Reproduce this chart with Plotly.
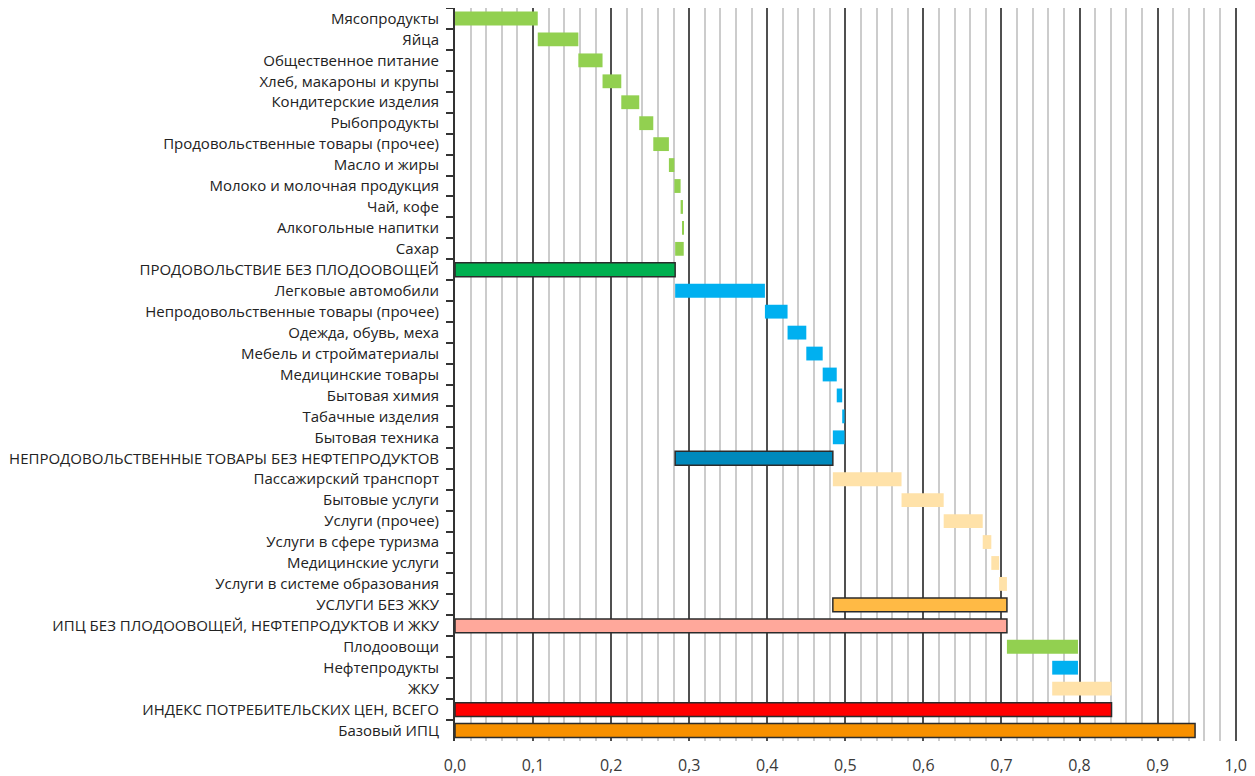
import plotly.graph_objects as go

# ---- data (contributions) ----
food_names = ["Мясопродукты", "Яйца", "Общественное питание", "Хлеб, макароны и крупы",
              "Кондитерские изделия", "Рыбопродукты", "Продовольственные товары (прочее)",
              "Масло и жиры", "Молоко и молочная продукция", "Чай, кофе",
              "Алкогольные напитки", "Сахар"]
food_vals = [0.106, 0.052, 0.031, 0.024, 0.023, 0.018, 0.020, 0.007, 0.008, 0.003, 0.001, -0.011]
food_total_name = "ПРОДОВОЛЬСТВИЕ БЕЗ ПЛОДООВОЩЕЙ"

nonfood_names = ["Легковые автомобили", "Непродовольственные товары (прочее)",
                 "Одежда, обувь, меха", "Мебель и стройматериалы", "Медицинские товары",
                 "Бытовая химия", "Табачные изделия", "Бытовая техника"]
nonfood_vals = [0.115, 0.029, 0.024, 0.021, 0.018, 0.007, 0.003, -0.015]
nonfood_total_name = "НЕПРОДОВОЛЬСТВЕННЫЕ ТОВАРЫ БЕЗ НЕФТЕПРОДУКТОВ"

services_names = ["Пассажирский транспорт", "Бытовые услуги", "Услуги (прочее)",
                  "Услуги в сфере туризма", "Медицинские услуги", "Услуги в системе образования"]
services_vals = [0.088, 0.054, 0.050, 0.011, 0.010, 0.010]
services_total_name = "УСЛУГИ БЕЗ ЖКУ"

core_ex_name = "ИПЦ БЕЗ ПЛОДООВОЩЕЙ, НЕФТЕПРОДУКТОВ И ЖКУ"

other_names = ["Плодоовощи", "Нефтепродукты", "ЖКУ"]
other_vals = [0.091, -0.033, 0.076]
cpi_name = "ИНДЕКС ПОТРЕБИТЕЛЬСКИХ ЦЕН, ВСЕГО"

base_cpi_name = "Базовый ИПЦ"
base_cpi_val = 0.948

x_tickvals = [0.0, 0.1, 0.2, 0.3, 0.4, 0.5, 0.6, 0.7, 0.8, 0.9, 1.0]
x_ticktext = ["0,0", "0,1", "0,2", "0,3", "0,4", "0,5", "0,6", "0,7", "0,8", "0,9", "1,0"]

# ---- colours ----
C_FOOD, C_FOOD_T = "#92D050", "#00B050"
C_NF, C_NF_T = "#00B0F0", "#0089BC"
C_SRV, C_SRV_T = "#FFE2A9", "#FFBA45"
C_CORE = "#FFA89B"
C_CPI = "#FF0000"
C_BASE = "#F79000"
EDGE = "#2b2b2b"

names, bases, lens, colors, lws = [], [], [], [], []


def add(name, base, length, color, lw):
    names.append(name)
    bases.append(base)
    lens.append(length)
    colors.append(color)
    lws.append(lw)


cum = 0.0
start = cum
for n, v in zip(food_names, food_vals):
    add(n, cum, v, C_FOOD, 0)
    cum += v
add(food_total_name, start, cum - start, C_FOOD_T, 1.5)

start = cum
for n, v in zip(nonfood_names, nonfood_vals):
    add(n, cum, v, C_NF, 0)
    cum += v
add(nonfood_total_name, start, cum - start, C_NF_T, 1.5)

start = cum
for n, v in zip(services_names, services_vals):
    add(n, cum, v, C_SRV, 0)
    cum += v
add(services_total_name, start, cum - start, C_SRV_T, 1.5)

add(core_ex_name, 0, cum, C_CORE, 1.5)

other_colors = [C_FOOD, C_NF, C_SRV]
for n, v, c in zip(other_names, other_vals, other_colors):
    add(n, cum, v, c, 0)
    cum += v
add(cpi_name, 0, cum, C_CPI, 1.5)
add(base_cpi_name, 0, base_cpi_val, C_BASE, 1.5)

fig = go.Figure(go.Bar(
    orientation="h",
    y=names,
    x=lens,
    base=bases,
    width=0.66,
    marker=dict(color=colors, line=dict(color=EDGE, width=lws)),
    hoverinfo="skip",
))

# page body adds an 8px offset, so the figure is 8px smaller than the window
fig.update_layout(
    width=1247, height=768,
    margin=dict(l=447, r=17, t=0, b=35, autoexpand=False),
    plot_bgcolor="white", paper_bgcolor="white",
    showlegend=False,
)
fig.update_xaxes(
    range=[0, 1.003],
    tickvals=x_tickvals, ticktext=x_ticktext,
    showgrid=True, gridcolor="#505050", gridwidth=1.5,
    minor=dict(dtick=0.02, tick0=0, showgrid=True, gridcolor="#cccccc", gridwidth=1.5),
    zeroline=False, showline=False, ticks="",
    tickfont=dict(family="Open Sans", size=16, color="#3a3a3a"),
    ticklabelstandoff=13,
    automargin=False,
)
fig.update_yaxes(
    autorange="reversed",
    type="category",
    showline=True, linecolor="#333333", linewidth=2,
    ticks="outside", ticklen=7, tickcolor="#333333", tickwidth=1.5,
    tickson="boundaries",
    showgrid=False,
    tickfont=dict(family="Open Sans", size=15, color="#222222"),
    ticklabelstandoff=11,
    automargin=False,
)

fig.write_html("out.html")
